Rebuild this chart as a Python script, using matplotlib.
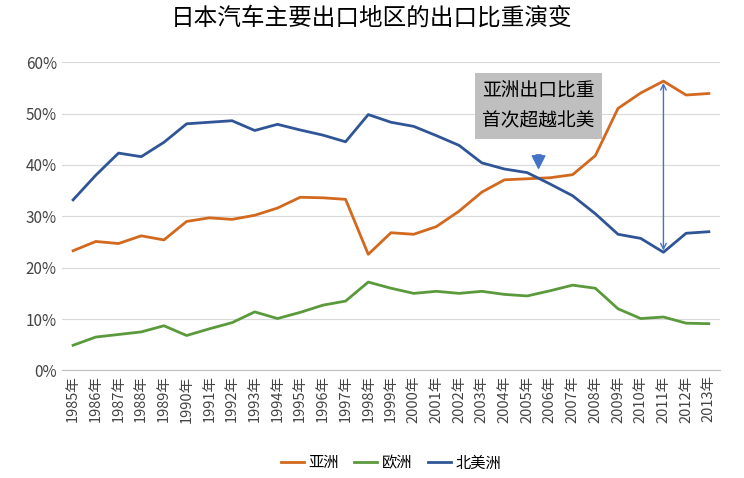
import matplotlib.pyplot as plt
import numpy as np

plt.rcParams['font.family'] = 'Noto Sans CJK SC'

years = [str(y) + '年' for y in range(1985, 2014)]
asia = [23.3, 25.1, 24.7, 26.2, 25.4, 29.0, 29.7, 29.4, 30.2, 31.6, 33.7, 33.6, 33.3, 22.6,
        26.8, 26.5, 28.0, 31.0, 34.7, 37.1, 37.3, 37.5, 38.1, 41.8, 51.0, 54.0, 56.3, 53.6, 53.9]
europe = [4.9, 6.5, 7.0, 7.5, 8.7, 6.8, 8.1, 9.3, 11.4, 10.1, 11.3, 12.7, 13.5, 17.2,
          16.0, 15.0, 15.4, 15.0, 15.4, 14.8, 14.5, 15.5, 16.6, 16.0, 12.0, 10.1, 10.4, 9.2, 9.1]
namerica = [33.2, 38.0, 42.3, 41.6, 44.4, 48.0, 48.3, 48.6, 46.7, 47.9, 46.8, 45.8, 44.5, 49.8,
            48.3, 47.5, 45.7, 43.8, 40.4, 39.2, 38.5, 36.3, 34.0, 30.5, 26.5, 25.7, 23.0, 26.7, 27.0]

fig = plt.figure(figsize=(7.44, 4.78), dpi=100)
ax = fig.add_axes([0.083, 0.225, 0.885, 0.645])
x = np.arange(len(years))
ax.plot(x, asia, color='#d2691e', lw=2, label='亚洲')
ax.plot(x, europe, color='#5b9a3c', lw=2, label='欧洲')
ax.plot(x, namerica, color='#2f5597', lw=2, label='北美洲')

ax.set_ylim(0, 60)
ax.set_xlim(-0.5, len(years) - 0.5)
ax.set_yticks(range(0, 61, 10))
ax.set_yticklabels([f'{v}%' for v in range(0, 61, 10)], fontsize=11, color='#444444')
ax.set_xticks(x)
ax.set_xticklabels(years, rotation=90, fontsize=10.5, color='#444444')
ax.grid(axis='y', color='#d9d9d9', lw=0.8)
ax.tick_params(length=0)
for s in ['top', 'right', 'left']:
    ax.spines[s].set_visible(False)
ax.spines['bottom'].set_color('#bfbfbf')

ax.text(20.5, 51.5, '亚洲出口比重\n首次超越北美', fontsize=13.5, ha='center', va='center',
        linespacing=1.6, bbox=dict(facecolor='#bfbfbf', edgecolor='none', pad=5))
ax.annotate('', xy=(20.5, 38.8), xytext=(20.5, 42.5),
            arrowprops=dict(arrowstyle='simple', color='#4472c4', mutation_scale=18))
ax.annotate('', xy=(26, 22.8), xytext=(26, 56.5),
            arrowprops=dict(arrowstyle='<->', color='#4472c4', lw=1))

ax.legend(loc='center', bbox_to_anchor=(0.5, -0.3), ncol=3, frameon=False,
          fontsize=11, handlelength=1.5, columnspacing=1.0, handletextpad=0.3)
fig.suptitle('日本汽车主要出口地区的出口比重演变', fontsize=17, y=0.985)
fig.savefig('out.png')
